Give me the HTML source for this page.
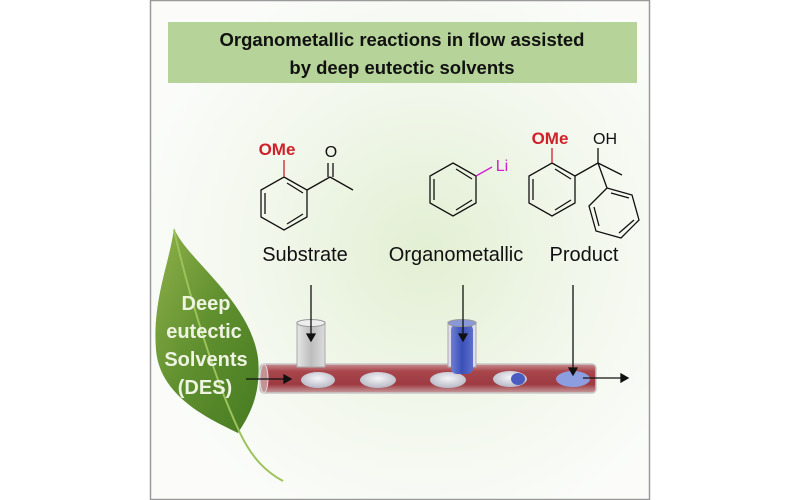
<!DOCTYPE html>
<html><head><meta charset="utf-8"><style>
html,body{margin:0;padding:0;background:#fff;}
svg{display:block}
text{font-family:"Liberation Sans",sans-serif}
</style></head><body>
<svg width="800" height="500" viewBox="0 0 800 500" xmlns="http://www.w3.org/2000/svg">
<defs>
<radialGradient id="bg" cx="0.55" cy="0.5" r="0.6">
<stop offset="0" stop-color="#e3efd3"/><stop offset="0.6" stop-color="#f3f8ee"/><stop offset="1" stop-color="#fbfcfa"/>
</radialGradient>
<linearGradient id="leaf" x1="0" y1="0" x2="1" y2="1">
<stop offset="0" stop-color="#8fb14a"/><stop offset="0.5" stop-color="#5f8f2e"/><stop offset="1" stop-color="#477b22"/>
</linearGradient>
<linearGradient id="tube" x1="0" y1="0" x2="0" y2="1">
<stop offset="0" stop-color="#c98f92"/><stop offset="0.25" stop-color="#a8464c"/><stop offset="0.7" stop-color="#9e3a41"/><stop offset="1" stop-color="#c7a0a2"/>
</linearGradient>
<linearGradient id="cylg" x1="0" y1="0" x2="1" y2="0">
<stop offset="0" stop-color="#e6e6e6"/><stop offset="0.5" stop-color="#bdbdbd"/><stop offset="1" stop-color="#dcdcdc"/>
</linearGradient>
<linearGradient id="cylb" x1="0" y1="0" x2="1" y2="0">
<stop offset="0" stop-color="#6d7fd6"/><stop offset="0.5" stop-color="#3a4fb8"/><stop offset="1" stop-color="#5d6fcc"/>
</linearGradient>
<radialGradient id="bub" cx="0.5" cy="0.4" r="0.6">
<stop offset="0" stop-color="#f4f4f8"/><stop offset="1" stop-color="#b9b9c6"/>
</radialGradient>
</defs>
<rect x="0" y="0" width="800" height="500" fill="#fff"/>
<rect x="150.5" y="0.5" width="499" height="499" fill="url(#bg)" stroke="#9a9a9a" stroke-width="1.5"/>
<rect x="168" y="22" width="469" height="61" fill="#b6d49a"/>
<text x="402" y="46" font-size="18.5" font-weight="bold" text-anchor="middle" fill="#111">Organometallic reactions in flow assisted</text>
<text x="402" y="74" font-size="18.5" font-weight="bold" text-anchor="middle" fill="#111">by deep eutectic solvents</text>

<!-- substrate molecule -->
<g fill="none" stroke="#111" stroke-width="1.3">
<polygon points="284,177 307,190 307,217 284,230 261,217 261,190"/>
<line x1="265" y1="193" x2="265" y2="214"/><line x1="287" y1="224" x2="303" y2="214"/><line x1="287" y1="183" x2="303" y2="193"/>
<line x1="307" y1="190" x2="330" y2="177"/><line x1="330" y1="177" x2="353" y2="190"/>
<line x1="328" y1="177" x2="328" y2="163"/><line x1="333" y1="177" x2="333" y2="163"/>
</g>
<line x1="284" y1="177" x2="284" y2="160" stroke="#d0202a" stroke-width="1.3"/>
<text x="277" y="155" font-size="17" font-weight="bold" fill="#d0202a" text-anchor="middle">OMe</text>
<text x="331" y="157" font-size="16" fill="#111" text-anchor="middle">O</text>

<!-- PhLi -->
<g fill="none" stroke="#111" stroke-width="1.3">
<polygon points="453,163 476,176 476,203 453,216 430,203 430,176"/>
<line x1="434" y1="179" x2="434" y2="200"/><line x1="456" y1="210" x2="472" y2="200"/><line x1="456" y1="169" x2="472" y2="179"/>
</g>
<line x1="476" y1="176" x2="492" y2="167" stroke="#d020d0" stroke-width="1.3"/>
<text x="502" y="171" font-size="16" fill="#d020d0" text-anchor="middle">Li</text>

<!-- product -->
<g fill="none" stroke="#111" stroke-width="1.3">
<polygon points="552,163 575,176 575,203 552,216 529,203 529,176"/>
<line x1="533" y1="179" x2="533" y2="200"/><line x1="555" y1="210" x2="571" y2="200"/><line x1="555" y1="169" x2="571" y2="179"/>
<line x1="575" y1="176" x2="598" y2="163"/><line x1="598" y1="163" x2="598" y2="148"/><line x1="598" y1="163" x2="622" y2="175"/>
<line x1="598" y1="163" x2="607" y2="188"/>
<polygon points="607,188 632,195 639,220 621,238 596,231 589,206"/>
<line x1="611" y1="193" x2="629" y2="198"/><line x1="634" y1="220" x2="619" y2="233"/><line x1="594" y1="207" x2="599" y2="226"/>
</g>
<line x1="552" y1="163" x2="552" y2="148" stroke="#d0202a" stroke-width="1.3"/>
<text x="550" y="144" font-size="17" font-weight="bold" fill="#d0202a" text-anchor="middle">OMe</text>
<text x="605" y="144" font-size="16" fill="#111" text-anchor="middle">OH</text>

<text x="305" y="261" font-size="20" fill="#111" text-anchor="middle">Substrate</text>
<text x="456" y="261" font-size="20" fill="#111" text-anchor="middle">Organometallic</text>
<text x="584" y="261" font-size="20" fill="#111" text-anchor="middle">Product</text>

<!-- leaf -->
<path d="M174,228 C185,258 250,300 258,358 C262,398 246,420 238,433 C212,420 160,398 156,350 C152,300 170,262 174,228 Z" fill="url(#leaf)"/>
<path d="M174,230 C190,300 215,380 240,433 C252,458 266,472 283,481" fill="none" stroke="#9cc25a" stroke-width="2"/>
<g font-size="20" font-weight="bold" fill="#eef3e2" text-anchor="middle">
<text x="206" y="310">Deep</text><text x="204" y="338">eutectic</text><text x="206" y="366">Solvents</text><text x="205" y="394">(DES)</text>
</g>

<!-- tube -->
<rect x="260" y="364" width="336" height="29" rx="4" fill="url(#tube)" stroke="#c9c9c9" stroke-width="1.5"/>
<ellipse cx="264" cy="378.5" rx="4" ry="14" fill="#c49294" stroke="#ddd"/>
<ellipse cx="318" cy="380" rx="17" ry="8" fill="url(#bub)"/>
<ellipse cx="378" cy="380" rx="18" ry="8" fill="url(#bub)"/>
<ellipse cx="448" cy="380" rx="18" ry="8" fill="url(#bub)"/>
<ellipse cx="510" cy="379" rx="17" ry="8" fill="url(#bub)"/>
<ellipse cx="518" cy="379" rx="7" ry="6" fill="#4a5cc2"/>
<ellipse cx="573" cy="379" rx="17" ry="8" fill="#8d9ee0"/>
<!-- cylinders -->
<rect x="297" y="322" width="28" height="45" fill="url(#cylg)" stroke="#aaa"/>
<ellipse cx="311" cy="323" rx="14" ry="3.5" fill="#eee" stroke="#999"/>
<rect x="448" y="322" width="28" height="45" fill="#dde" stroke="#aaa"/>
<rect x="451" y="324" width="22" height="50" rx="6" fill="url(#cylb)"/>
<ellipse cx="462" cy="323" rx="14" ry="3.5" fill="#8a97d8" stroke="#999"/>
<!-- arrows -->
<g stroke="#111" stroke-width="1.3" fill="#111">
<line x1="311" y1="285" x2="311" y2="335"/><polygon points="307,334 315,334 311,341"/>
<line x1="463" y1="285" x2="463" y2="335"/><polygon points="459,334 467,334 463,341"/>
<line x1="573" y1="285" x2="573" y2="369"/><polygon points="569,368 577,368 573,375"/>
<line x1="246" y1="379" x2="285" y2="379"/><polygon points="284,375 284,383 291,379"/>
<line x1="583" y1="378" x2="622" y2="378"/><polygon points="621,374 621,382 628,378"/>
</g>
</svg>
</body></html>
